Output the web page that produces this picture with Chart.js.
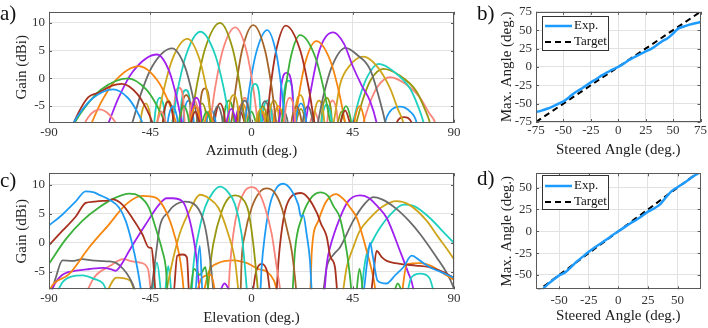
<!DOCTYPE html>
<html lang="en">
<head>
<meta charset="UTF-8">
<title>Beam steering - gain patterns</title>
<script src="https://cdn.jsdelivr.net/npm/chart.js"></script>
<style>
  body { margin: 0; background: #fff; width: 708px; height: 328px; position: relative; overflow: hidden; font-family: "Liberation Serif", serif; }
  canvas { position: absolute; }
  .tag { position: absolute; font-size: 21px; line-height: 1; color: #111; }
</style>
</head>
<body>
<canvas id="chartA" width="465" height="160" style="left:0;top:0"></canvas>
<canvas id="chartC" width="465" height="168" style="left:0;top:160px"></canvas>
<canvas id="chartB" width="248" height="160" style="left:460px;top:0"></canvas>
<canvas id="chartD" width="248" height="168" style="left:460px;top:160px"></canvas>
<div class="tag" style="left:0;top:3px">a)</div>
<div class="tag" style="left:477px;top:3px">b)</div>
<div class="tag" style="left:0;top:170px">c)</div>
<div class="tag" style="left:477px;top:168px">d)</div>
<script>
// ---- data ----
const azimuthTicks = [-90, -45, 0, 45, 90];
const elevationTicks = [-90, -45, 0, 45, 90];
const gainTicks = [-5, 0, 5, 10];
const steerTicksB = [-75, -50, -25, 0, 25, 50, 75];
const steerTicksD = [-50, -25, 0, 25, 50];

// (a) azimuth cuts, one list of [angle, gain] per beam (values under -8 fall off the plot)
const azimuthBeams = [
  [[-76,-10],[-74,-8],[-72.7,-7.1],[-70.8,-6.2],[-67.5,-5.6],[-64.1,-6.2],[-62,-7.1],[-60.5,-8],[-59,-10],
   [-43,-10],[-41.8,-7.8],[-40,-6],[-38.2,-7.8],[-37,-10]],
  [[-81,-10],[-79,-8],[-75.5,-5.8],[-70.3,-3.5],[-61.5,-2],[-55,-3.5],[-51.1,-5.8],[-48.5,-8],[-47,-10],
   [-38,-10],[-36.8,-6.8],[-35,-5],[-33.2,-6.8],[-32,-10]],
  [[-81,-10],[-79,-8],[-76,-5.5],[-72.5,-3.4],[-68,-2.6],[-62,-1.3],[-57.5,-1],[-50.8,-2.8],[-46.7,-5.5],[-44,-8],[-42.5,-10],
   [-40,-10],[-38.8,-6],[-37,-4.2],[-35.2,-6],[-34,-10],[-28,-10],[-26.8,-7.8],[-25,-6],[-23.2,-7.8],[-22,-10]],
  [[-80.5,-10],[-78.5,-8],[-73.8,-5.1],[-66.8,-2],[-55,0],[-46.8,-2],[-41.8,-5.1],[-38.5,-8],[-37,-10],
   [-33,-10],[-31.8,-6.8],[-30,-5],[-28.2,-6.8],[-27,-10],[-23,-10],[-21.8,-7.8],[-20,-6],[-18.2,-7.8],[-17,-10]],
  [[-73,-10],[-71,-8],[-66.8,-4.3],[-60.5,-0.4],[-50,2.2],[-41.8,-0.4],[-36.8,-4.3],[-33.5,-8],[-32,-10],
   [-28,-10],[-26.8,-6.8],[-25,-5],[-23.2,-6.8],[-22,-9.5],[-20.8,-7.8],[-19,-6],[-17.2,-7.8],[-16,-10]],
  [[-65.5,-10],[-63.5,-8],[-59.2,-3.6],[-52.8,1.2],[-42,4.3],[-36.5,1.2],[-33.2,-3.6],[-31,-8],[-30,-10],
   [-27.5,-10],[-26.3,-5.3],[-24.5,-3.5],[-22.7,-5.3],[-21.5,-10],[-12,-10],[-10.8,-7.3],[-9,-5.5],[-7.2,-7.3],[-6,-10]],
  [[-55,-10],[-53,-8],[-49.5,-3.2],[-44.2,2.1],[-35.3,5.4],[-29.6,2.1],[-26.1,-3.2],[-23.8,-8],[-23,-10],
   [-18,-10],[-16.8,-6.8],[-15,-5],[-13.2,-6.8],[-12,-10],[-6,-10],[-4.8,-5.8],[-3,-4],[-1.2,-5.8],[0,-10]],
  [[-50,-10],[-48.8,-6.3],[-47,-4.5],[-45.2,-6.3],[-44,-10],[-43,-10],[-42,-8],[-39.3,-2.6],[-35.3,3.3],[-28.5,7.1],[-23,3.3],[-19.7,-2.6],[-17.5,-8],[-16.5,-10],
   [-11,-10],[-9.8,-4.8],[-8,-3],[-6.2,-4.8],[-5,-10],[1,-10],[2.2,-7.3],[4,-5.5],[5.8,-7.3],[7,-10]],
  [[-43.7,-10],[-42.5,-5.3],[-40.7,-3.5],[-38.9,-5.3],[-37.7,-10],[-35.3,-8],[-32.8,-2.1],[-29,4.3],[-22.7,8.4],[-16.2,4.3],[-12.2,-2.1],[-9.6,-8],[-8.8,-10],
   [-1.4,-10],[-0.2,-2.8],[1.6,-1],[3.4,-2.8],[4.6,-10]],
  [[-40,-10],[-38.8,-5.8],[-37,-4],[-35.2,-5.8],[-34,-10],[-29,-10],[-27,-8],[-24.4,-1.5],[-20.5,5.5],[-14,10],[-8.5,5.5],[-5.1,-1.5],[-2.9,-8],[-2,-10],
   [2,-10],[3.2,-6.8],[5,-5],[6.8,-6.8],[8,-10]],
  [[-35.2,-10],[-34,-3.5],[-32.2,-1.7],[-30.4,-3.5],[-29.2,-10],[-28.5,-10],[-27.3,-5.8],[-25.5,-4],[-23.7,-5.8],[-22.5,-10],
   [-20,-10],[-18.5,-8],[-16.2,-1.8],[-12.9,4.9],[-7.2,9.2],[-2.2,4.9],[0.8,-1.8],[2.8,-8],[3.5,-10],
   [14,-10],[15.2,-5.3],[17,-3.5],[18.8,-5.3],[20,-10]],
  [[-32,-10],[-30.8,-4.8],[-29,-3],[-27.2,-4.8],[-26,-10],[-23.7,-10],[-22.5,-3.6],[-20.7,-1.8],[-18.9,-3.6],[-17.7,-10],
   [-10.5,-10],[-9,-8],[-7,-1.7],[-4.1,5.2],[0.8,9.6],[5.9,5.2],[9,-1.7],[11,-8],[12,-10],
   [17,-10],[18.2,-6.8],[20,-5],[21.8,-6.8],[23,-10]],
  [[-31,-10],[-29.8,-5.8],[-28,-4],[-26.2,-5.8],[-25,-10],[-21,-10],[-19.8,-7.3],[-18,-5.5],[-16.2,-7.3],[-15,-10],
   [-4.5,-10],[-3,-8],[-1,-2],[2,4.5],[7,8.7],[11,4.5],[13.4,-2],[15,-8],[16,-10],
   [19,-10],[20.2,-6.3],[22,-4.5],[23.8,-6.3],[25,-10]],
  [[-17,-10],[-15.8,-6.3],[-14,-4.5],[-12.2,-6.3],[-11,-10],[-8,-10],[-6.8,-7.8],[-5,-6],[-3.2,-7.8],[-2,-10],
   [5.5,-10],[6.7,-8],[8.4,-1.7],[11,5.1],[15.2,9.5],[21.6,5.1],[25.4,-1.7],[28,-8],[29,-10],
   [38.6,-10],[39.8,-7.6],[41.6,-5.8],[43.4,-7.6],[44.6,-10]],
  [[-13,-10],[-11.8,-5.8],[-10,-4],[-8.2,-5.8],[-7,-10],[-3,-10],[-1.8,-7.8],[0,-6],[1.8,-7.8],[3,-10],
   [12.3,-10],[13.4,-8],[15,-2.3],[17.5,3.9],[21.6,7.8],[28.3,3.9],[32.3,-2.3],[35,-8],[36,-10],
   [39,-10],[40.2,-6.8],[42,-5],[43.8,-6.8],[45,-10]],
  [[-7,-10],[-5.8,-6.3],[-4,-4.5],[-2.2,-6.3],[-1,-10],[2,-10],[3.2,-7.8],[5,-6],[6.8,-7.8],[8,-10],[9,-10],[10.2,-6.8],[12,-5],[13.8,-6.8],[15,-10],
   [18,-10],[19.3,-8],[21.2,-2.7],[24,3],[28.8,6.7],[35.2,3],[39,-2.7],[41.6,-8],[42.6,-10],
   [45,-10],[46.2,-6.8],[48,-5],[49.8,-6.8],[51,-10]],
  [[-8,-10],[-6.8,-6.8],[-5,-5],[-3.2,-6.8],[-2,-10],[1,-10],[2.2,-7.8],[4,-6],[5.8,-7.8],[7,-10],
   [12,-10],[13.2,-1.5],[15.6,1],[18,-1.5],[19.2,-10],
   [23,-10],[24,-8],[26,-3],[29.7,4.4],[33,7.5],[36.4,8.3],[41,6.3],[45.2,2],[49,-1.3],[52.7,-4.1],[55.6,-8],[56.5,-10]],
  [[3,-10],[4.2,-5.9],[6,-4.1],[7.8,-5.9],[9,-10],[11,-10],[12.2,-7.3],[14,-5.5],[15.8,-7.3],[17,-10],[22,-10],[23.2,-6.8],[25,-5],[26.8,-6.8],[28,-10],
   [28.5,-10],[29.5,-8],[32,-3.1],[35.7,2.1],[41.8,5.5],[47,4.2],[52.7,1.6],[57.1,-4.1],[59.5,-8],[60.5,-10]],
  [[7,-10],[8.2,-5.8],[10,-4],[11.8,-5.8],[13,-10],[18.6,-10],[19.8,-4.8],[21.6,-3],[23.4,-4.8],[24.6,-10],[27,-10],[28.2,-5.8],[30,-4],[31.8,-5.8],[33,-10],
   [35,-10],[36.5,-8],[39.3,-1.2],[43.5,2.2],[49.7,3.9],[55.5,2.3],[61.6,-1.8],[65,-5.5],[67.5,-8],[68.5,-10]],
  [[-32.2,-10],[-31,-3.9],[-29.2,-2.1],[-27.4,-3.9],[-26.2,-10],[4,-10],[5.2,-5.8],[7,-4],[8.8,-5.8],[10,-10],
   [13.4,-10],[14.6,-2.2],[16.4,-0.4],[18.2,-2.2],[19.4,-10],[30.4,-10],[31.6,-6.5],[33.4,-4.7],[35.2,-6.5],[36.4,-10],
   [43.5,-10],[45,-8],[48,-3.5],[51.5,0.3],[56.5,2.6],[63,1.3],[70.4,-1.8],[74,-5],[76.5,-8],[77.5,-10]],
  [[-25,-10],[-23.8,-6.3],[-22,-4.5],[-20.2,-6.3],[-19,-10],[19,-10],[20.2,-7.3],[22,-5.5],[23.8,-7.3],[25,-10],
   [30.4,-10],[31.6,-5.3],[33.4,-3.5],[35.2,-5.3],[36.4,-10],[37.4,-10],[38.5,-7.8],[40,-6],[41.5,-7.8],[42.6,-10],
   [45,-10],[46.6,-8],[49.5,-3.8],[53,-0.3],[58.6,1.7],[65.5,0.6],[73.4,-2.4],[77,-5.5],[79.3,-8],[80.3,-10]],
  [[-6,-10],[-4.8,-5.3],[-3,-3.5],[-1.2,-5.3],[0,-10],[5,-10],[6.2,-6.8],[8,-5],[9.8,-6.8],[11,-10],
   [25,-10],[26.2,-7.8],[28,-6],[29.8,-7.8],[31,-10],[33,-10],[34.2,-5.8],[36,-4],[37.8,-5.8],[39,-10],
   [48,-10],[49.7,-8],[52.5,-4.5],[56,-1.5],[61.6,0.2],[68,-0.9],[74.9,-3.5],[79,-6.3],[81.6,-8],[82.6,-10]],
  [[58.5,-10],[59.3,-8],[61.5,-6],[66,-5.1],[70.5,-6],[73.4,-8],[74.2,-10]],
  [[63.5,-10],[64.5,-8],[67.8,-7],[71.2,-8],[72.2,-10]]
];

// (c) elevation cuts
const elevationBeams = [
  [[-90,3],[-84,4.9],[-78,7.2],[-73.7,8.9],[-70,8.7],[-67.8,8.3],[-63.3,7.5],[-58.9,6.1],[-55.9,3.8],[-53,-0.2],[-50.8,-4.2],[-49.2,-8],[-48.5,-10],[-25.5,-10],[-23,-0.5],[-21.5,-10],
   [49,-10],[51.5,-3],[52.7,0],[54,-2.5],[56,-6.5],[60,-7],[64,-5.5],[67.5,-4.2],[71.2,-2.2],[75,-3.1],[79.3,-4.2],[84,-5],[90,-6]],
  [[-90,-0.4],[-84,2.1],[-78,4.6],[-73.7,6.9],[-70,7.1],[-67.8,7.2],[-64,7.3],[-61.9,7.5],[-57.4,6.6],[-53,4.3],[-48.5,1.5],[-45.6,-0.8],[-44.4,-0.9],[-43.5,-4],[-42.8,-8],[-42,-10],[-35,-10],[-33,-2.2],[-30.5,-2],[-28.7,-2.5],[-27.5,-10],
   [52.5,-10],[54,-6],[55.6,-1.4],[58,-2.5],[60.1,-3.1],[64,-3.5],[67.5,-3.7],[73,-3.9],[79.3,-4.2],[85,-5],[90,-6]],
  [[-90,-3.6],[-82.6,0.6],[-75.2,3.8],[-67.8,6.1],[-60.4,7.8],[-54.4,8.5],[-50,8.1],[-45.6,6.1],[-42.6,2.6],[-39.6,-1.4],[-38.1,-4.2],[-37.4,-8],[-37,-10],[-28,-10],[-25.5,-4.5],[-23,-5.5],[-20.5,-4.2],[-18.5,-10],[62,-10],[65,-7],[68,-10]],
  [[-90,-8.5],[-88.5,-7.3],[-81.1,-5.4],[-72.2,-0.8],[-63.3,3.2],[-55.9,6.6],[-48.5,8.1],[-42.6,7.8],[-38.9,6.1],[-35.2,2.6],[-32.2,-1.9],[-30.8,-5.5],[-30.2,-8],[-29.8,-10],[-26,-10],[-22,-6],[-18,-5.5],[-15,-10],
   [66,-10],[69,-3.7],[75,-3.5],[80,-4],[85,-5.2],[90,-6.4]],
  [[-90,-10],[-88,-7.5],[-84,-5.5],[-78,-4.8],[-72,-4.5],[-66,-4.3],[-62,-4.6],[-60.4,-4.8],[-57,-3.2],[-54.4,-1.4],[-47,3.2],[-41.1,6.6],[-37.7,7.7],[-35.2,7.7],[-30.8,7.2],[-28.8,5.7],[-25.9,1.1],[-24.4,-2.8],[-23.2,-8],[-22.7,-10],[-16,-10],[-12,-7],[-8,-10]],
  [[-90,-10],[-87,-6],[-84,-3],[-79.6,-3.1],[-75.2,-2.8],[-71,-3],[-67.8,-3.1],[-63,-3.2],[-60.4,-3.4],[-57,-4.5],[-54.4,-5.9],[-52,-8],[-51,-10],[-45,-10],[-44.4,-8],[-42.5,-2],[-40.7,2.9],[-37,5.3],[-34.8,6.3],[-29.6,7.1],[-24.4,6.3],[-20.7,2.9],[-18.4,-2.8],[-17,-8],[-16.5,-10]],
  [[-66,-10],[-60,-6],[-54,-6.5],[-50,-10],[-39,-10],[-37.7,-8],[-35,-3],[-31.8,1.7],[-27.3,5.7],[-22.9,8.3],[-19,7.7],[-14.8,6.1],[-10.3,1.5],[-7.3,-3.1],[-5.9,-8],[-5.3,-10]],
  [[-88,-10],[-84,-6.8],[-80,-5.8],[-75,-5.6],[-70,-6.2],[-66,-7],[-62,-10],[-45,-10],[-42,-3.4],[-39.5,-10],[-39,-10],[-37,-4],[-35,-10],[-27.5,-10],[-26.5,-8],[-25.9,-4.2],[-23.6,1.5],[-20.7,6.1],[-17,8.8],[-14,9.7],[-10.5,8.8],[-7.3,6.6],[-4.4,1.5],[-2.9,-4.2],[-2.1,-8],[-1.6,-10],
   [68,-10],[71,-6],[75,-5.3],[79,-6],[82,-10]],
  [[-20.5,-10],[-19.4,-8],[-18.4,-4.2],[-17,-0.2],[-13.2,5.5],[-10,7.8],[-7.3,8.2],[-4.5,7.8],[-1.4,5.5],[0.8,-0.2],[2.3,-5.9],[2.8,-8],[3.2,-10]],
  [[-75,-10],[-70,-6],[-63,-4],[-57,-2.8],[-53,-3.2],[-49.6,-3.4],[-46,-4.5],[-44,-10],[-11,-10],[-10.2,-8],[-9.6,-4.2],[-8.1,1.5],[-5.9,6.1],[-3,8.9],[0.1,9.6],[3,8.9],[6,6.1],[9,1.5],[11.2,-4.2],[12.7,-8],[13.2,-10]],
  [[-5.5,-10],[-4.8,-8],[-4.4,-3.1],[-2.9,1.5],[0.1,6.1],[3.5,8.7],[6.7,9.4],[10,8.8],[13.4,6.1],[16,2],[17.9,-1.4],[19.3,-5.9],[19.8,-8],[20.2,-10]],
  [[3.5,-10],[4,-8],[4.5,-4.2],[6,1.5],[8.2,6.6],[11,9.4],[14.1,10.2],[17.5,9.2],[20.8,6.6],[22,4.5],[23,4.8],[24.5,1.5],[26,-3.1],[26.7,-8],[27.2,-10]],
  [[0,-10],[2,-5],[4.5,-3.6],[7,-5],[9,-10],[10.5,-10],[11.2,-8],[11.8,-4.2],[12.7,-0.2],[14.9,5.5],[18,8.1],[22,8.6],[25.5,7.6],[29,5.2],[31,3.2],[33.4,1.1],[35,-2.3],[37.1,-4.2],[38,-8],[38.5,-10]],
  [[17.5,-10],[18.3,-8],[19.3,-1.4],[22.3,4.3],[26,7.5],[30.5,8.7],[34,8.1],[36.5,6.3],[39.3,4.3],[42.3,-1.4],[43.8,-5.9],[44.3,-8],[44.7,-10],[46,-10],[48,-4.5],[50,-10]],
  [[-22,-10],[-19,-5],[-15,-3.5],[-8,-3],[-2,-3.5],[3,-4.5],[7,-5],[10,-6.5],[13,-10],[25.5,-10],[26.2,-8],[26.8,-1.4],[29.7,3.8],[33,7],[37.5,8.4],[41,7.5],[44,6],[46.8,4.3],[51.2,-1.4],[54.1,-5.9],[55,-8],[55.5,-10]],
  [[31.5,-10],[32.5,-8],[33.5,-3.5],[34.9,-0.8],[39.3,4.3],[43,7.2],[48.2,8.2],[52,7.8],[56,6.3],[60.1,4.3],[66,-1.4],[69.5,-5],[71.9,-7.9],[72.5,-10]],
  [[30.5,-10],[32,-8],[33.4,-4.2],[36.5,-2],[39.3,-0.8],[45.2,3.8],[50,6.6],[54.1,7.9],[58,7.5],[64,6],[70,3.8],[75,1.5],[82.3,-2.5],[86.5,-5],[89.7,-7.6],[90,-8]],
  [[40,-10],[40.8,-8],[42.3,-4.2],[45.2,-0.8],[48,2],[52.7,4.3],[58,6.2],[64.5,7.2],[70,6.6],[77.9,3.8],[83,1],[86.8,-1],[90,-2.8]],
  [[48,-10],[49,-8],[50,-4.5],[51.2,-1.9],[54,0.5],[57.1,2.6],[62,5],[67.5,6.6],[72,6.4],[79.3,4.3],[85,2],[90,0]]
];

// (b) azimuth steering
const steeredB = [-75,-70,-65,-60,-55,-50,-45,-40,-35,-30,-25,-20,-15,-10,-5,0,5,10,15,20,25,30,35,40,45,50,55,60,65,70,75];
const measuredB = [-61.5,-59.5,-57,-54,-50.5,-47,-41.5,-35.5,-31,-26,-21,-16.5,-11.5,-7.5,-3.5,0,4.5,9.5,13.5,17.5,21,24.5,29.5,35,39,45.5,52.5,55,57.5,59.5,61];
const targetXB = [-75, 75];
const targetB = [-75, 75];

// (d) elevation steering
const steeredD = [-65,-60,-55,-50,-45,-40,-35,-30,-25,-20,-15,-10,-5,0,5,10,15,20,25,30,35,40,45,50,55,60,65,70];
const measuredD = [-68,-61,-55.5,-50.5,-47,-41,-34.5,-29,-23.5,-18.5,-14,-9.5,-4.5,0,4.5,9,13,17.5,22.5,26,30.5,38.5,46,50.5,54.8,59.5,64.5,68.5];
const targetXD = [-70, 70];
const targetD = [-70, 70];

// ---- styling ----
const beamColors = ['#f9857b', '#1e9cf5', '#a8321f', '#3bb03a', '#f6860f', '#a020ef', '#6b6b6b',
  '#cfa51c', '#1ed0bf', '#979710', '#f9857b', '#a5652a', '#1e9cf5', '#a8321f', '#3bb03a',
  '#f6860f', '#a020ef', '#6b6b6b', '#cfa51c', '#1ed0bf', '#979710', '#f9857b', '#1e9cf5', '#a8321f'];
const elevColors = ['#1e9cf5', '#a8321f', '#3bb03a', '#f6860f', '#a020ef', '#6b6b6b', '#cfa51c',
  '#1ed0bf', '#979710', '#f9857b', '#a5652a', '#1e9cf5', '#a8321f', '#3bb03a', '#f6860f',
  '#a020ef', '#6b6b6b', '#cfa51c', '#1ed0bf'];
const GRID = '#e2e2e2';
const TICK_FONT = { family: '"Liberation Serif", serif', size: 13 };
const TITLE_FONT = { family: '"Liberation Serif", serif', size: 15 };

Chart.defaults.font.family = '"Liberation Serif", serif';

// box + inward tick marks like the original plot
const frame = {
  id: 'frame',
  afterDatasetsDraw(chart) {
    const { ctx, chartArea: a, scales: { x, y } } = chart;
    ctx.save();
    ctx.strokeStyle = '#5a5a5a';
    ctx.lineWidth = 1;
    ctx.beginPath();
    x.ticks.forEach(t => {
      const px = Math.round(x.getPixelForValue(t.value)) + 0.5;
      ctx.moveTo(px, a.bottom); ctx.lineTo(px, a.bottom - 3);
      ctx.moveTo(px, a.top); ctx.lineTo(px, a.top + 3);
    });
    y.ticks.forEach(t => {
      const py = Math.round(y.getPixelForValue(t.value)) + 0.5;
      ctx.moveTo(a.left, py); ctx.lineTo(a.left + 3, py);
      ctx.moveTo(a.right, py); ctx.lineTo(a.right - 3, py);
    });
    ctx.stroke();
    ctx.strokeRect(Math.round(a.left) + 0.5, Math.round(a.top) + 0.5, Math.round(a.width) - 1, Math.round(a.height) - 1);
    ctx.restore();
  }
};

// legend box inside the plot area (b and d)
const boxLegend = {
  id: 'boxLegend',
  afterDraw(chart, args, opts) {
    if (!opts || opts.dx === undefined) return;
    const { ctx, chartArea: a } = chart;
    const left = Math.round(a.left + opts.dx), top = Math.round(a.top + opts.dy);
    ctx.save();
    ctx.fillStyle = '#fff';
    ctx.fillRect(left, top, 67, 35);
    ctx.strokeStyle = '#333';
    ctx.lineWidth = 1;
    ctx.strokeRect(left + 0.5, top + 0.5, 66, 34);
    chart.data.datasets.forEach((ds, i) => {
      const yy = top + opts.row0 + i * 16;
      ctx.strokeStyle = ds.borderColor;
      ctx.lineWidth = ds.borderWidth;
      ctx.setLineDash(ds.borderDash || []);
      ctx.beginPath();
      ctx.moveTo(left + 3, yy); ctx.lineTo(left + 30, yy);
      ctx.stroke();
      ctx.setLineDash([]);
      ctx.fillStyle = '#111';
      ctx.font = '13px "Liberation Serif", serif';
      ctx.textBaseline = 'middle';
      ctx.fillText(ds.label, left + 32, yy);
    });
    ctx.restore();
  }
};

function beamSets(beams, colors) {
  return beams.map((pts, i) => ({
    data: pts.map(p => ({ x: p[0], y: p[1] })),
    borderColor: colors[i],
    borderWidth: 1.8,
    pointRadius: 0,
    fill: false,
    cubicInterpolationMode: 'monotone'
  }));
}

function axes(c) {
  return {
    x: {
      type: 'linear', min: c.xMin, max: c.xMax,
      afterBuildTicks: s => { s.ticks = c.xTicks.map(v => ({ value: v })); },
      afterFit: s => { s.height = c.xHeight; },
      grid: { color: GRID, drawTicks: false },
      border: { display: false },
      ticks: { padding: c.xPad, color: '#333', font: TICK_FONT, autoSkip: false, maxRotation: 0 },
      title: { display: true, text: c.xTitle, color: '#222', font: TITLE_FONT, padding: { top: 0, bottom: c.xTitlePad } }
    },
    y: {
      type: 'linear', min: c.yMin, max: c.yMax,
      afterBuildTicks: s => { s.ticks = c.yTicks.map(v => ({ value: v })); },
      afterFit: s => { s.width = c.yWidth; },
      grid: { color: GRID, drawTicks: false },
      border: { display: false },
      ticks: { padding: 4, color: '#333', font: TICK_FONT, autoSkip: false },
      title: { display: true, text: c.yTitle, color: '#222', font: TITLE_FONT, padding: { top: c.yTitlePad, bottom: 0 } }
    }
  };
}

function baseOptions(c) {
  return {
    responsive: false,
    animation: false,
    events: [],
    layout: { padding: { left: 0, right: c.right, top: c.top, bottom: 0 } },
    plugins: { legend: { display: false }, tooltip: { enabled: false }, boxLegend: c.legend || {} },
    scales: axes(c)
  };
}

// (a)
new Chart(document.getElementById('chartA'), {
  type: 'line',
  data: { datasets: beamSets(azimuthBeams, beamColors) },
  options: baseOptions({
    right: 11, top: 6, xHeight: 37.3, yWidth: 49, xPad: 2.5, xTitlePad: 0, yTitlePad: 13.5,
    xMin: -90, xMax: 90, yMin: -8, yMax: 12, xTicks: azimuthTicks, yTicks: gainTicks,
    xTitle: 'Azimuth (deg.)', yTitle: 'Gain (dBi)'
  }),
  plugins: [frame]
});

// (c)
new Chart(document.getElementById('chartC'), {
  type: 'line',
  data: { datasets: beamSets(elevationBeams, elevColors) },
  options: baseOptions({
    right: 11, top: 13.3, xHeight: 38.7, yWidth: 49, xPad: 1, xTitlePad: 1, yTitlePad: 13.5,
    xMin: -90, xMax: 90, yMin: -8, yMax: 12, xTicks: elevationTicks, yTicks: gainTicks,
    xTitle: 'Elevation (deg.)', yTitle: 'Gain (dBi)'
  }),
  plugins: [frame]
});

function steerSets(xs, ys, tx, ty) {
  return [
    { label: 'Exp.', data: xs.map((v, i) => ({ x: v, y: ys[i] })), borderColor: '#1e9bff', borderWidth: 2.5, pointRadius: 0, tension: 0.3 },
    { label: 'Target', data: tx.map((v, i) => ({ x: v, y: ty[i] })), borderColor: '#000', borderWidth: 2, borderDash: [6, 4], pointRadius: 0 }
  ];
}

// (b)
new Chart(document.getElementById('chartB'), {
  type: 'line',
  data: { datasets: steerSets(steeredB, measuredB, targetXB, targetB) },
  options: baseOptions({
    right: 7, top: 6, xHeight: 38, yWidth: 76, xPad: 1, xTitlePad: 1, yTitlePad: 38,
    xMin: -75, xMax: 75, yMin: -75, yMax: 75, xTicks: steerTicksB, yTicks: steerTicksB,
    xTitle: 'Steered Angle (deg.)', yTitle: 'Max. Angle (deg.)',
    legend: { dx: 6, dy: 4, row0: 10 }
  }),
  plugins: [frame, boxLegend]
});

// (d)
new Chart(document.getElementById('chartD'), {
  type: 'line',
  data: { datasets: steerSets(steeredD, measuredD, targetXD, targetD) },
  options: baseOptions({
    right: 7.3, top: 13.3, xHeight: 38.7, yWidth: 76, xPad: 3, xTitlePad: 2.5, yTitlePad: 38,
    xMin: -69.6, xMax: 69.6, yMin: -66.4, yMax: 66.4, xTicks: steerTicksD, yTicks: steerTicksD,
    xTitle: 'Steered Angle (deg.)', yTitle: 'Max. Angle (deg.)',
    legend: { dx: 6, dy: 2, row0: 11 }
  }),
  plugins: [frame, boxLegend]
});
</script>
</body>
</html>
